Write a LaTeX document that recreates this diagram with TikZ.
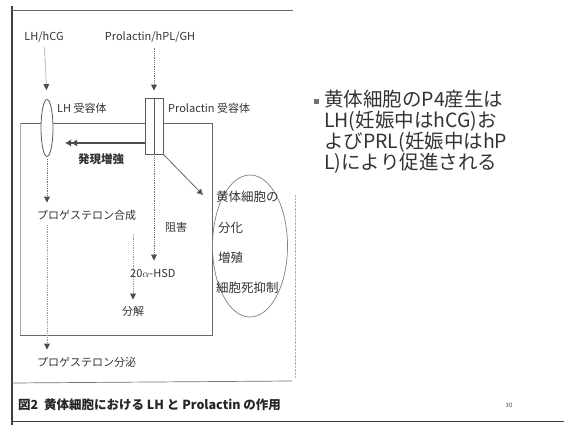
\documentclass[tikz,border=0pt]{standalone}
\usepackage{fontspec}
\setmainfont{Noto Sans CJK JP}
\usetikzlibrary{arrows.meta,shapes.geometric}
\begin{document}
\begin{tikzpicture}[x=1pt,y=-1pt,
  lbl/.style={font=\fontsize{11}{13}\selectfont, text=black!80, inner sep=1pt},
  inlbl/.style={font=\fontsize{12.5}{14}\selectfont, text=black!80, inner sep=0pt, anchor=west},
  dotarr/.style={draw=black!55, densely dotted, line width=0.8pt, -{Triangle[width=6pt,length=6pt,fill=black!70,line width=0pt]}},
  solidarr/.style={draw=black!60, line width=0.8pt, -{Triangle[width=6pt,length=6pt,fill=black!70]}},
  memb/.style={draw=black!60, line width=0.7pt},
  bigtxt/.style={font=\fontsize{19.5}{21}\selectfont, text=black!80, align=left, anchor=north west, inner sep=0pt}
]
\useasboundingbox (0,0) rectangle (564,425);
\fill[white] (0,0) rectangle (564,425);
% frame
\draw[black!75, line width=1.6pt] (12,6) -- (12,425);
\draw[black!60, line width=0.9pt] (12,10) -- (293,10);
\draw[black!55, line width=0.7pt] (12,383) -- (292,381);
\draw[black!75, line width=1pt] (12,421) -- (564,421);
\draw[black!30, densely dotted] (295,195) -- (295,378);
% cell box
\draw[memb] (20,123) -- (212,123) -- (212,335) -- (20,335);
\draw[black!35, line width=0.6pt] (20,123) -- (20,335);
% receptors
\node[lbl] (lh) at (44,37) {LH/hCG};
\node[lbl] (prl) at (150,37) {Prolactin/hPL/GH};
\node[draw=black!65, line width=0.8pt, fill=white, ellipse, minimum width=12pt, minimum height=57pt, inner sep=0] (lhr) at (47,128) {};
\node[draw=black!65, line width=0.8pt, fill=white, minimum width=18pt, minimum height=56pt, inner sep=0] (prr) at (154,126) {};
\draw[black!65, line width=0.8pt] (prr.north) -- (prr.south);
\node[lbl, anchor=west] (lhrl) at (56,108) {LH 受容体};
\node[lbl, anchor=west] (prrl) at (167,108) {Prolactin 受容体};
\draw[dotarr, shorten <=4pt, shorten >=9pt] (lh) -- (lhr.north);
\draw[dotarr, shorten <=4pt, shorten >=7pt] (prl.south -| prr) -- (prr.north);
% expression enhancement
\coordinate (enh) at (65,143);
\draw[draw=black!70, line width=1.1pt, -{Latex[length=6pt,width=7pt]Latex[length=6pt,width=7pt]}] (prr.west |- enh) -- (enh);
\node[lbl, font=\bfseries\fontsize{11.5}{13}\selectfont] (enhl) at (101,159) {発現増強};
% cell ellipse
\node[draw=black!50, line width=0.7pt, ellipse, minimum width=75pt, minimum height=142pt, inner sep=0] (cell) at (250,246) {};
\node[inlbl] (c1) at (216,197) {黄体細胞の};
\node[inlbl] (c2) at (218,228) {分化};
\node[inlbl] (c3) at (218,258) {増殖};
\node[inlbl] (c4) at (216,288) {細胞死抑制};
\coordinate (celltip) at (203,195);
\draw[solidarr] (prr.south east) -- (celltip);
% LH pathway
\node[lbl, anchor=west] (synth) at (36,215) {プロゲステロン合成};
\node[lbl, anchor=west] (secr) at (36,362) {プロゲステロン分泌};
\draw[dotarr, shorten <=2pt, shorten >=6pt] (lhr.south) -- (lhr.south |- synth.north);
\draw[dotarr, draw=black!40, shorten <=4pt, shorten >=6pt] (lhr.south |- synth.south) -- (lhr.south |- secr.north);
% prolactin inhibition
\node[lbl, anchor=west] (hsd) at (129,273) {20$\alpha$-HSD};
\node[lbl] (inh) at (176,227) {阻害};
\draw[dotarr, shorten <=2pt, shorten >=7pt] (prr.south) -- (prr.south |- hsd.north);
\node[lbl] (deg) at (133,311) {分解};
\coordinate (degtop) at (133,234);
\draw[dotarr, draw=black!40, shorten >=5pt] (degtop) -- (deg.north);
% right text
\node[fill=black!55, minimum size=5pt, inner sep=0] (bul) at (316,102) {};
\node[bigtxt] (txt) at (324,90) {黄体細胞のP4産生は\\LH(妊娠中はhCG)お\\よびPRL(妊娠中はhP\\L)により促進される};
% caption
\node[anchor=west, font=\bfseries\fontsize{12.5}{14}\selectfont, text=black!85, inner sep=0] (cap) at (18,405) {図2\ \ 黄体細胞における LH と Prolactin の作用};
\node[font=\fontsize{6}{7}\selectfont, text=black!70] (pg) at (509,405) {30};
\end{tikzpicture}
\end{document}
